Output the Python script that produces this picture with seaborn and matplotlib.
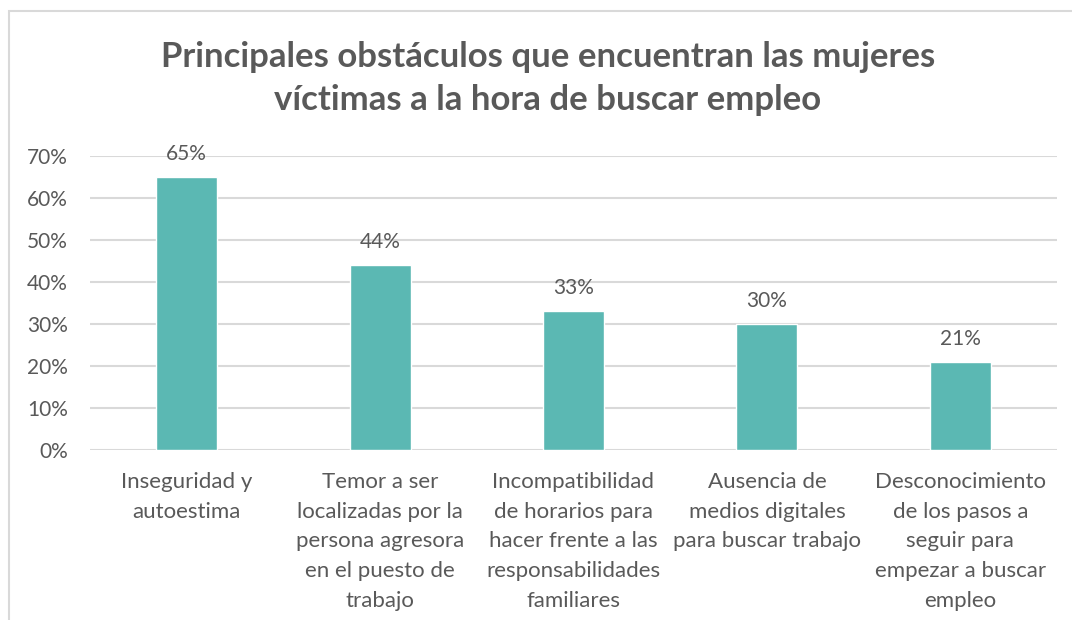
import matplotlib
matplotlib.use("Agg")
import matplotlib.pyplot as plt
import seaborn as sns
import pandas as pd
from matplotlib.patches import Rectangle

categories = [
    "Inseguridad y\nautoestima",
    "Temor a ser\nlocalizadas por la\npersona agresora\nen el puesto de\ntrabajo",
    "Incompatibilidad\nde horarios para\nhacer frente a las\nresponsabilidades\nfamiliares",
    "Ausencia de\nmedios digitales\npara buscar trabajo",
    "Desconocimiento\nde los pasos a\nseguir para\nempezar a buscar\nempleo",
]
values = [0.65, 0.44, 0.33, 0.30, 0.21]
yticks = [0, 0.1, 0.2, 0.3, 0.4, 0.5, 0.6, 0.7]
title = "Principales obstáculos que encuentran las mujeres\nvíctimas a la hora de buscar empleo"

sns.set_theme(style="white")
plt.rcParams['font.family'] = ['Lato', 'DejaVu Sans']
TXT = "#595959"

df = pd.DataFrame({"cat": categories, "val": values})

fig = plt.figure(figsize=(10.72, 6.2), dpi=100)
ax = fig.add_axes([90/1072, 1-450/620, (1057-90)/1072, (450-156)/620])

# chart frame
fig.patches.append(Rectangle((9/1072, -0.1), 1.2, 1-11/620+0.1, transform=fig.transFigure,
                             fill=False, edgecolor="#D9D9D9", linewidth=1.5, zorder=0))

sns.barplot(data=df, x="cat", y="val", color="#5BB8B3", saturation=1, width=0.315, ax=ax, zorder=3)

ax.set_ylim(0, 0.7)
ax.set_yticks(yticks)
ax.set_yticklabels([f"{int(round(t*100))}%" for t in yticks], fontsize=15, color=TXT)
ax.yaxis.grid(True, color="#D9D9D9", linewidth=1.5, zorder=0)
ax.set_axisbelow(True)
for s in ax.spines.values():
    s.set_visible(False)
ax.tick_params(axis="both", length=0)
ax.tick_params(axis="y", pad=16)
ax.tick_params(axis="x", pad=16)
ax.set_xlabel("")
ax.set_ylabel("")
for lbl in ax.get_xticklabels():
    lbl.set_fontsize(16)
    lbl.set_color(TXT)
    lbl.set_linespacing(1.6)

for p, v in zip(ax.patches, values):
    ax.annotate(f"{int(round(v*100))}%", (p.get_x() + p.get_width()/2, p.get_height()),
                xytext=(0, 9.5), textcoords="offset points", ha="center", va="bottom",
                fontsize=15, color=TXT)

fig.text(548/1072, 1-78.5/620, title, ha="center", va="center", fontsize=25,
         fontweight="bold", color=TXT, linespacing=1.45)

fig.savefig("out.png", dpi=100)
